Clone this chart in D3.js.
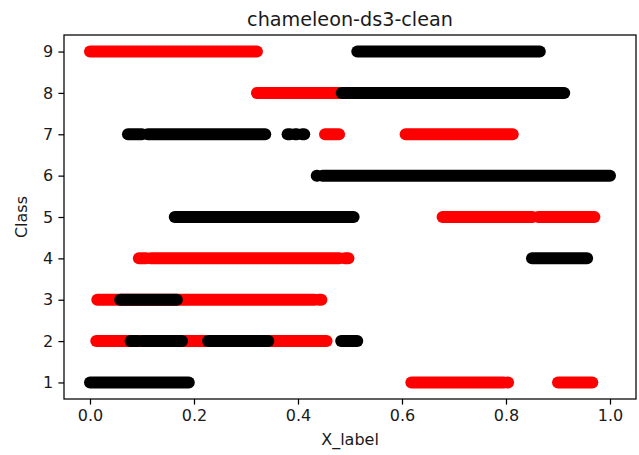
<!DOCTYPE html>
<html>
<head>
<meta charset="utf-8">
<script src="https://cdn.jsdelivr.net/npm/d3@7/dist/d3.min.js"></script>
<style>
  html, body { margin: 0; padding: 0; background: #fff; }
  svg { display: block; }
  text { font-family: "DejaVu Sans", sans-serif; fill: #1a1a1a; }
</style>
</head>
<body>
<script>
// ---- data ----
const chartTitle = "chameleon-ds3-clean";
const xLabel = "X_label";
const yLabel = "Class";
const xTicks = [0.0, 0.2, 0.4, 0.6, 0.8, 1.0];
const yTicks = [1, 2, 3, 4, 5, 6, 7, 8, 9];

// runs of densely packed points: [class, first x, last x]
const redRuns = [
  [9, 0.000, 0.321],
  [8, 0.321, 0.480],
  [7, 0.452, 0.479],
  [7, 0.607, 0.813],
  [5, 0.678, 0.851],
  [5, 0.862, 0.970],
  [4, 0.094, 0.108],
  [4, 0.117, 0.480],
  [4, 0.490, 0.497],
  [3, 0.014, 0.432],
  [3, 0.440, 0.445],
  [2, 0.012, 0.455],
  [1, 0.618, 0.796],
  [1, 0.803, 0.804],
  [1, 0.900, 0.966]
];
const blackRuns = [
  [9, 0.514, 0.865],
  [8, 0.484, 0.912],
  [7, 0.073, 0.100],
  [7, 0.111, 0.337],
  [7, 0.380, 0.385],
  [7, 0.394, 0.398],
  [7, 0.408, 0.412],
  [6, 0.436, 0.437],
  [6, 0.447, 1.000],
  [5, 0.163, 0.507],
  [4, 0.850, 0.956],
  [3, 0.058, 0.167],
  [2, 0.078, 0.092],
  [2, 0.100, 0.177],
  [2, 0.227, 0.343],
  [2, 0.483, 0.514],
  [1, 0.000, 0.190]
];

// ---- layout ----
const W = 639, H = 455;
const mLeft = 64, mRight = 636, mTop = 35, mBottom = 399;

const svg = d3.select("body").append("svg")
  .attr("width", W).attr("height", H);

const x = d3.scaleLinear().domain([-0.05, 1.05]).range([mLeft, mRight]);
const y = d3.scaleLinear().domain([0.6, 9.4]).range([mBottom, mTop]);

const markerD = 12;

function drawRuns(runs, color) {
  svg.append("g").selectAll("line").data(runs).join("line")
    .attr("x1", d => x(d[1]))
    .attr("x2", d => x(d[2]))
    .attr("y1", d => y(d[0]))
    .attr("y2", d => y(d[0]))
    .attr("stroke", color)
    .attr("stroke-width", markerD)
    .attr("stroke-linecap", "round");
}
drawRuns(redRuns, "#ff0000");
drawRuns(blackRuns, "#000000");

// axes
const xAxis = d3.axisBottom(x).tickValues(xTicks).tickFormat(d3.format(".1f"))
  .tickSizeInner(5.6).tickSizeOuter(0).tickPadding(5.2);
const yAxis = d3.axisLeft(y).tickValues(yTicks).tickFormat(d3.format("d"))
  .tickSizeInner(5.6).tickSizeOuter(0).tickPadding(5.2);

const gx = svg.append("g").attr("transform", `translate(0,${mBottom})`).call(xAxis);
const gy = svg.append("g").attr("transform", `translate(${mLeft},0)`).call(yAxis);
[gx, gy].forEach(g => {
  g.select(".domain").remove();
  g.selectAll(".tick line").attr("stroke", "#000").attr("stroke-width", 1.25);
  g.selectAll(".tick text").style("font-size", "16px").style("font-family", "DejaVu Sans").attr("fill", "#1a1a1a");
});

// frame
svg.append("rect")
  .attr("x", mLeft).attr("y", mTop)
  .attr("width", mRight - mLeft).attr("height", mBottom - mTop)
  .attr("fill", "none").attr("stroke", "#000").attr("stroke-width", 1.25);

// title & labels
svg.append("text")
  .attr("x", (mLeft + mRight) / 2).attr("y", 25.5)
  .attr("text-anchor", "middle").style("font-size", "19.2px")
  .text(chartTitle);

svg.append("text")
  .attr("x", (mLeft + mRight) / 2).attr("y", 445)
  .attr("text-anchor", "middle").style("font-size", "16px")
  .text(xLabel);

svg.append("text")
  .attr("transform", `translate(27,${(mTop + mBottom) / 2}) rotate(-90)`)
  .attr("text-anchor", "middle").style("font-size", "16px")
  .text(yLabel);
</script>
</body>
</html>
